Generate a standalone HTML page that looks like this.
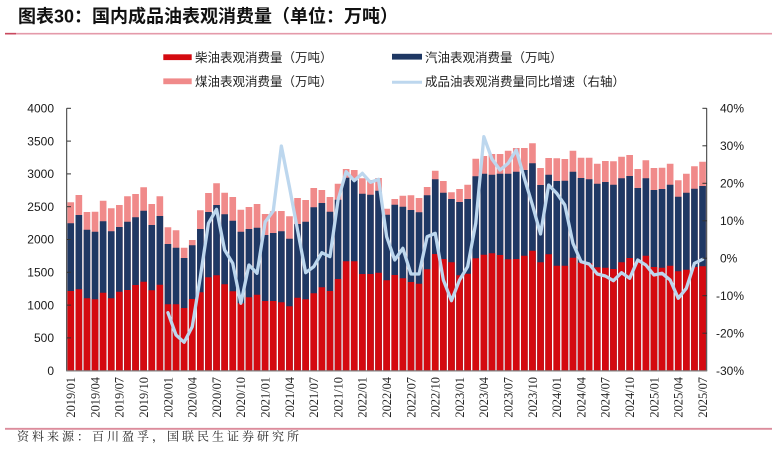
<!DOCTYPE html>
<html>
<head>
<meta charset="utf-8">
<style>
html,body{margin:0;padding:0;background:#fff;}
svg{display:block;}
.yl{font-family:"Liberation Sans",sans-serif;font-size:12px;fill:#1a1a1a;}
.xl{font-family:"Liberation Serif",serif;font-size:12.4px;fill:#222;}
.lg{font-family:"Liberation Sans","Noto Sans CJK SC",sans-serif;font-size:12.5px;fill:#222;}
</style>
</head>
<body>
<svg width="777" height="452" viewBox="0 0 777 452" xmlns="http://www.w3.org/2000/svg">
<rect width="777" height="452" fill="#fff"/>
<text x="18" y="22.3" font-family="'Liberation Sans','Noto Sans CJK SC',sans-serif" font-size="18" font-weight="bold" fill="#111">图表30：国内成品油表观消费量（单位：万吨）</text>
<line x1="5" y1="33.7" x2="772" y2="33.7" stroke="#E49AAA" stroke-width="1.6"/>
<line x1="5" y1="33.7" x2="16" y2="33.7" stroke="#C9485E" stroke-width="1.6"/>

<!-- legend -->
<rect x="163.3" y="54.3" width="28.4" height="5.8" fill="#D40A10"/>
<text class="lg" x="195" y="61.8">柴油表观消费量（万吨）</text>
<rect x="163.3" y="78.4" width="28.4" height="5.8" fill="#F08A8A"/>
<text class="lg" x="195" y="86.2">煤油表观消费量（万吨）</text>
<rect x="392" y="53.8" width="30" height="5.8" fill="#1F3864"/>
<text class="lg" x="425" y="61.8">汽油表观消费量（万吨）</text>
<line x1="392" y1="82.3" x2="422" y2="82.3" stroke="#BDD7EE" stroke-width="3"/>
<text class="lg" x="425" y="86.2">成品油表观消费量同比增速（右轴）</text>

<!-- bars -->
<g transform="translate(66.7,0) scale(8.1,1)">
<path fill="#F08A8A" d="M.09 202.3h.82V370.7h-.82zM1.09 195h.82V370.7h-.82zM2.09 212h.82V370.7h-.82zM3.09 211.7h.82V370.7h-.82zM4.09 200.7h.82V370.7h-.82zM5.09 208.3h.82V370.7h-.82zM6.09 205h.82V370.7h-.82zM7.09 196.3h.82V370.7h-.82zM8.09 194h.82V370.7h-.82zM9.09 187.3h.82V370.7h-.82zM10.09 204h.82V370.7h-.82zM11.09 196.3h.82V370.7h-.82zM12.09 227.3h.82V370.7h-.82zM13.09 230.3h.82V370.7h-.82zM14.09 247.7h.82V370.7h-.82zM15.09 240h.82V370.7h-.82zM16.09 210.3h.82V370.7h-.82zM17.09 193h.82V370.7h-.82zM18.09 183.3h.82V370.7h-.82zM19.09 192.7h.82V370.7h-.82zM20.09 197h.82V370.7h-.82zM21.09 209.7h.82V370.7h-.82zM22.09 207h.82V370.7h-.82zM23.09 204h.82V370.7h-.82zM24.09 214h.82V370.7h-.82zM25.09 211.3h.82V370.7h-.82zM26.09 211h.82V370.7h-.82zM27.09 216.3h.82V370.7h-.82zM28.09 198h.82V370.7h-.82zM29.09 200h.82V370.7h-.82zM30.09 188h.82V370.7h-.82zM31.09 190h.82V370.7h-.82zM32.09 197h.82V370.7h-.82zM33.09 183.7h.82V370.7h-.82zM34.09 169h.82V370.7h-.82zM35.09 170h.82V370.7h-.82zM36.09 178.3h.82V370.7h-.82zM37.09 180h.82V370.7h-.82zM38.09 178h.82V370.7h-.82zM39.09 208.7h.82V370.7h-.82zM40.09 199h.82V370.7h-.82zM41.09 195.7h.82V370.7h-.82zM42.09 195.3h.82V370.7h-.82zM43.09 198h.82V370.7h-.82zM44.09 187h.82V370.7h-.82zM45.09 170.7h.82V370.7h-.82zM46.09 181h.82V370.7h-.82zM47.09 192.3h.82V370.7h-.82zM48.09 189h.82V370.7h-.82zM49.09 184.7h.82V370.7h-.82zM50.09 158.7h.82V370.7h-.82zM51.09 156h.82V370.7h-.82zM52.09 154h.82V370.7h-.82zM53.09 154h.82V370.7h-.82zM54.09 150.7h.82V370.7h-.82zM55.09 148h.82V370.7h-.82zM56.09 148h.82V370.7h-.82zM57.09 143.3h.82V370.7h-.82zM58.09 168h.82V370.7h-.82zM59.09 158h.82V370.7h-.82zM60.09 158.3h.82V370.7h-.82zM61.09 159h.82V370.7h-.82zM62.09 150.7h.82V370.7h-.82zM63.09 157.7h.82V370.7h-.82zM64.09 157.7h.82V370.7h-.82zM65.09 163.7h.82V370.7h-.82zM66.09 161h.82V370.7h-.82zM67.09 161.3h.82V370.7h-.82zM68.09 156.7h.82V370.7h-.82zM69.09 155h.82V370.7h-.82zM70.09 169h.82V370.7h-.82zM71.09 160.3h.82V370.7h-.82zM72.09 168h.82V370.7h-.82zM73.09 167.7h.82V370.7h-.82zM74.09 163.7h.82V370.7h-.82zM75.09 180.3h.82V370.7h-.82zM76.09 173.7h.82V370.7h-.82zM77.09 166.3h.82V370.7h-.82zM78.09 161.7h.82V370.7h-.82z"/>
<path fill="#1F3864" d="M.09 223.3h.82V370.7h-.82zM1.09 215h.82V370.7h-.82zM2.09 229.7h.82V370.7h-.82zM3.09 231.7h.82V370.7h-.82zM4.09 221.3h.82V370.7h-.82zM5.09 231.3h.82V370.7h-.82zM6.09 227h.82V370.7h-.82zM7.09 221.7h.82V370.7h-.82zM8.09 217.3h.82V370.7h-.82zM9.09 210.7h.82V370.7h-.82zM10.09 225h.82V370.7h-.82zM11.09 216h.82V370.7h-.82zM12.09 244h.82V370.7h-.82zM13.09 247.7h.82V370.7h-.82zM14.09 258h.82V370.7h-.82zM15.09 245.3h.82V370.7h-.82zM16.09 229h.82V370.7h-.82zM17.09 212h.82V370.7h-.82zM18.09 205h.82V370.7h-.82zM19.09 214.3h.82V370.7h-.82zM20.09 220.7h.82V370.7h-.82zM21.09 231.7h.82V370.7h-.82zM22.09 229h.82V370.7h-.82zM23.09 227.7h.82V370.7h-.82zM24.09 235h.82V370.7h-.82zM25.09 233h.82V370.7h-.82zM26.09 231.3h.82V370.7h-.82zM27.09 238.7h.82V370.7h-.82zM28.09 224h.82V370.7h-.82zM29.09 221.7h.82V370.7h-.82zM30.09 207.3h.82V370.7h-.82zM31.09 203h.82V370.7h-.82zM32.09 211.7h.82V370.7h-.82zM33.09 199.7h.82V370.7h-.82zM34.09 177.7h.82V370.7h-.82zM35.09 179.3h.82V370.7h-.82zM36.09 193.7h.82V370.7h-.82zM37.09 194.7h.82V370.7h-.82zM38.09 190.7h.82V370.7h-.82zM39.09 214.7h.82V370.7h-.82zM40.09 204.7h.82V370.7h-.82zM41.09 206.7h.82V370.7h-.82zM42.09 210h.82V370.7h-.82zM43.09 212.3h.82V370.7h-.82zM44.09 195.3h.82V370.7h-.82zM45.09 179.3h.82V370.7h-.82zM46.09 192.7h.82V370.7h-.82zM47.09 199h.82V370.7h-.82zM48.09 202h.82V370.7h-.82zM49.09 199h.82V370.7h-.82zM50.09 176.3h.82V370.7h-.82zM51.09 173.7h.82V370.7h-.82zM52.09 174.7h.82V370.7h-.82zM53.09 173.7h.82V370.7h-.82zM54.09 173.7h.82V370.7h-.82zM55.09 171.7h.82V370.7h-.82zM56.09 170h.82V370.7h-.82zM57.09 163.3h.82V370.7h-.82zM58.09 185h.82V370.7h-.82zM59.09 174.7h.82V370.7h-.82zM60.09 181h.82V370.7h-.82zM61.09 180.7h.82V370.7h-.82zM62.09 171.7h.82V370.7h-.82zM63.09 178h.82V370.7h-.82zM64.09 179.3h.82V370.7h-.82zM65.09 183.7h.82V370.7h-.82zM66.09 182h.82V370.7h-.82zM67.09 184.7h.82V370.7h-.82zM68.09 178.3h.82V370.7h-.82zM69.09 176h.82V370.7h-.82zM70.09 188h.82V370.7h-.82zM71.09 178.3h.82V370.7h-.82zM72.09 190h.82V370.7h-.82zM73.09 189h.82V370.7h-.82zM74.09 184.7h.82V370.7h-.82zM75.09 196.7h.82V370.7h-.82zM76.09 192.7h.82V370.7h-.82zM77.09 188.7h.82V370.7h-.82zM78.09 186h.82V370.7h-.82z"/>
<path fill="#D40A10" d="M.09 291h.82V370.7h-.82zM1.09 289.3h.82V370.7h-.82zM2.09 298.3h.82V370.7h-.82zM3.09 299.3h.82V370.7h-.82zM4.09 292.7h.82V370.7h-.82zM5.09 298.3h.82V370.7h-.82zM6.09 291.7h.82V370.7h-.82zM7.09 290h.82V370.7h-.82zM8.09 285h.82V370.7h-.82zM9.09 281.7h.82V370.7h-.82zM10.09 290.3h.82V370.7h-.82zM11.09 284.7h.82V370.7h-.82zM12.09 304.3h.82V370.7h-.82zM13.09 304.3h.82V370.7h-.82zM14.09 308h.82V370.7h-.82zM15.09 299h.82V370.7h-.82zM16.09 292.3h.82V370.7h-.82zM17.09 277.3h.82V370.7h-.82zM18.09 275.3h.82V370.7h-.82zM19.09 284.3h.82V370.7h-.82zM20.09 291.3h.82V370.7h-.82zM21.09 303.3h.82V370.7h-.82zM22.09 297.3h.82V370.7h-.82zM23.09 294.7h.82V370.7h-.82zM24.09 301h.82V370.7h-.82zM25.09 301h.82V370.7h-.82zM26.09 302.3h.82V370.7h-.82zM27.09 306.3h.82V370.7h-.82zM28.09 297.7h.82V370.7h-.82zM29.09 299.3h.82V370.7h-.82zM30.09 293.3h.82V370.7h-.82zM31.09 287.3h.82V370.7h-.82zM32.09 291h.82V370.7h-.82zM33.09 279h.82V370.7h-.82zM34.09 261.3h.82V370.7h-.82zM35.09 261.3h.82V370.7h-.82zM36.09 274h.82V370.7h-.82zM37.09 274h.82V370.7h-.82zM38.09 272.7h.82V370.7h-.82zM39.09 280.3h.82V370.7h-.82zM40.09 275h.82V370.7h-.82zM41.09 278.3h.82V370.7h-.82zM42.09 282h.82V370.7h-.82zM43.09 283.7h.82V370.7h-.82zM44.09 269.3h.82V370.7h-.82zM45.09 254h.82V370.7h-.82zM46.09 259h.82V370.7h-.82zM47.09 262.3h.82V370.7h-.82zM48.09 275.3h.82V370.7h-.82zM49.09 273.7h.82V370.7h-.82zM50.09 258.3h.82V370.7h-.82zM51.09 254.7h.82V370.7h-.82zM52.09 253.3h.82V370.7h-.82zM53.09 255h.82V370.7h-.82zM54.09 259.3h.82V370.7h-.82zM55.09 259h.82V370.7h-.82zM56.09 255.7h.82V370.7h-.82zM57.09 250.7h.82V370.7h-.82zM58.09 262.3h.82V370.7h-.82zM59.09 254.3h.82V370.7h-.82zM60.09 265.7h.82V370.7h-.82zM61.09 265.7h.82V370.7h-.82zM62.09 257.7h.82V370.7h-.82zM63.09 262.7h.82V370.7h-.82zM64.09 263.3h.82V370.7h-.82zM65.09 267.3h.82V370.7h-.82zM66.09 267.7h.82V370.7h-.82zM67.09 269h.82V370.7h-.82zM68.09 262.3h.82V370.7h-.82zM69.09 258h.82V370.7h-.82zM70.09 262h.82V370.7h-.82zM71.09 255.7h.82V370.7h-.82zM72.09 267h.82V370.7h-.82zM73.09 267.7h.82V370.7h-.82zM74.09 265.7h.82V370.7h-.82zM75.09 271.3h.82V370.7h-.82zM76.09 269.7h.82V370.7h-.82zM77.09 267h.82V370.7h-.82zM78.09 266.3h.82V370.7h-.82z"/>
<polyline fill="none" stroke="#BDD7EE" stroke-width="3.3" stroke-linejoin="round" stroke-linecap="round" vector-effect="non-scaling-stroke" points="12.5,312.7 13.5,335 14.5,342.3 15.5,326.7 16.5,276.7 17.5,223.3 18.5,209.3 19.5,250 20.5,263.3 21.5,303.3 22.5,265 23.5,273.3 24.5,222 25.5,211 26.5,146 27.5,187 28.5,230 29.5,272.7 30.5,266.7 31.5,252.7 32.5,256.7 33.5,200 34.5,171.7 35.5,180.7 36.5,173.3 37.5,182.3 38.5,179.3 39.5,236.7 40.5,260 41.5,248.3 42.5,274 43.5,274 44.5,236.7 45.5,233.3 46.5,280 47.5,300.7 48.5,280 49.5,266.7 50.5,223.3 51.5,136.7 52.5,159 53.5,170 54.5,163.3 55.5,150 56.5,178.3 57.5,205 58.5,234 59.5,185 60.5,193.3 61.5,205 62.5,243.3 63.5,261.7 64.5,264 65.5,274 66.5,276 67.5,280.7 68.5,272.7 69.5,278.3 70.5,260 71.5,265 72.5,275 73.5,273.3 74.5,280 75.5,298.3 76.5,288.3 77.5,263.3 78.5,259.3"/>
</g>

<!-- axes -->
<line x1="66.7" y1="108.3" x2="66.7" y2="371" stroke="#333" stroke-width="1"/>
<line x1="706.7" y1="108.3" x2="706.7" y2="371" stroke="#333" stroke-width="1"/>
<line x1="66.2" y1="370.9" x2="707.2" y2="370.9" stroke="#808080" stroke-width="1.2"/>
<g stroke="#333" stroke-width="1">
<line x1="66.7" y1="108.3" x2="71" y2="108.3"/><line x1="66.7" y1="141.1" x2="71" y2="141.1"/><line x1="66.7" y1="173.9" x2="71" y2="173.9"/><line x1="66.7" y1="206.7" x2="71" y2="206.7"/><line x1="66.7" y1="239.5" x2="71" y2="239.5"/><line x1="66.7" y1="272.3" x2="71" y2="272.3"/><line x1="66.7" y1="305.1" x2="71" y2="305.1"/><line x1="66.7" y1="337.9" x2="71" y2="337.9"/>
<line x1="702.4" y1="108.3" x2="706.7" y2="108.3"/><line x1="702.4" y1="145.8" x2="706.7" y2="145.8"/><line x1="702.4" y1="183.3" x2="706.7" y2="183.3"/><line x1="702.4" y1="220.8" x2="706.7" y2="220.8"/><line x1="702.4" y1="258.2" x2="706.7" y2="258.2"/><line x1="702.4" y1="295.7" x2="706.7" y2="295.7"/><line x1="702.4" y1="333.2" x2="706.7" y2="333.2"/>
</g>

<!-- left labels -->
<g class="yl" text-anchor="end">
<text x="54" y="112.5">4000</text>
<text x="54" y="145.3">3500</text>
<text x="54" y="178.1">3000</text>
<text x="54" y="210.9">2500</text>
<text x="54" y="243.7">2000</text>
<text x="54" y="276.5">1500</text>
<text x="54" y="309.3">1000</text>
<text x="54" y="342.1">500</text>
<text x="54" y="374.9">0</text>
</g>
<!-- right labels -->
<g class="yl">
<text x="720" y="112.5">40%</text>
<text x="720" y="150">30%</text>
<text x="720" y="187.5">20%</text>
<text x="720" y="225">10%</text>
<text x="720" y="262.4">0%</text>
<text x="716" y="299.9">-10%</text>
<text x="716" y="337.4">-20%</text>
<text x="716" y="374.9">-30%</text>
</g>

<!-- x labels -->
<g class="xl" text-anchor="end">
<text transform="translate(70.75,377) rotate(-90)" dy=".35em">2019/01</text>
<text transform="translate(95.05,377) rotate(-90)" dy=".35em">2019/04</text>
<text transform="translate(119.35,377) rotate(-90)" dy=".35em">2019/07</text>
<text transform="translate(143.65,377) rotate(-90)" dy=".35em">2019/10</text>
<text transform="translate(167.95,377) rotate(-90)" dy=".35em">2020/01</text>
<text transform="translate(192.25,377) rotate(-90)" dy=".35em">2020/04</text>
<text transform="translate(216.55,377) rotate(-90)" dy=".35em">2020/07</text>
<text transform="translate(240.85,377) rotate(-90)" dy=".35em">2020/10</text>
<text transform="translate(265.15,377) rotate(-90)" dy=".35em">2021/01</text>
<text transform="translate(289.45,377) rotate(-90)" dy=".35em">2021/04</text>
<text transform="translate(313.75,377) rotate(-90)" dy=".35em">2021/07</text>
<text transform="translate(338.05,377) rotate(-90)" dy=".35em">2021/10</text>
<text transform="translate(362.35,377) rotate(-90)" dy=".35em">2022/01</text>
<text transform="translate(386.65,377) rotate(-90)" dy=".35em">2022/04</text>
<text transform="translate(410.95,377) rotate(-90)" dy=".35em">2022/07</text>
<text transform="translate(435.25,377) rotate(-90)" dy=".35em">2022/10</text>
<text transform="translate(459.55,377) rotate(-90)" dy=".35em">2023/01</text>
<text transform="translate(483.85,377) rotate(-90)" dy=".35em">2023/04</text>
<text transform="translate(508.15,377) rotate(-90)" dy=".35em">2023/07</text>
<text transform="translate(532.45,377) rotate(-90)" dy=".35em">2023/10</text>
<text transform="translate(556.75,377) rotate(-90)" dy=".35em">2024/01</text>
<text transform="translate(581.05,377) rotate(-90)" dy=".35em">2024/04</text>
<text transform="translate(605.35,377) rotate(-90)" dy=".35em">2024/07</text>
<text transform="translate(629.65,377) rotate(-90)" dy=".35em">2024/10</text>
<text transform="translate(653.95,377) rotate(-90)" dy=".35em">2025/01</text>
<text transform="translate(678.25,377) rotate(-90)" dy=".35em">2025/04</text>
<text transform="translate(702.55,377) rotate(-90)" dy=".35em">2025/07</text>
</g>

<line x1="5" y1="428.8" x2="772" y2="428.8" stroke="#DC8C9C" stroke-width="1.8"/>
<text x="17" y="440.5" font-family="'Liberation Serif','Noto Serif CJK SC',serif" font-size="12" letter-spacing="3" fill="#222">资料来源：百川盈孚，国联民生证券研究所</text>
</svg>
</body>
</html>
